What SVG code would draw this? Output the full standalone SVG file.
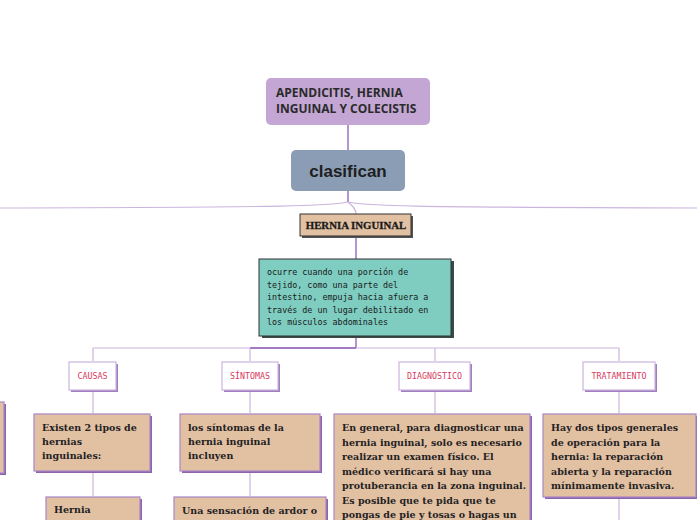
<svg xmlns="http://www.w3.org/2000/svg" width="697" height="520" viewBox="0 0 697 520">
<style>
.ln{fill:none;stroke:#cbb5de;stroke-width:1.2}
.lnd{fill:none;stroke:#8e5bb0;stroke-width:1.3}
.cat rect.b{fill:#fff;stroke:#cbb5de;stroke-width:1.2}
.cat rect.s{fill:#9f7fbd}
.cat text{font-family:"DejaVu Sans Mono","Liberation Mono",monospace;font-size:8.3px;fill:#d9385c;text-anchor:middle}
.tan rect.b{fill:#e2c0a2;stroke:#a886c6;stroke-width:1.2}
.tan rect.s{fill:#8d64ab}
.tan text{font-family:"DejaVu Serif","Liberation Serif",serif;font-weight:bold;font-size:9.5px;fill:#222}
</style>
<g id="connectors">
<path class="lnd" d="M348 125V150"/>
<path class="lnd" d="M348 191V202"/>
<path class="ln" d="M348 202C330 206 300 207 0 208"/>
<path class="ln" d="M348 202C366 206 396 207 697 208"/>
<path class="ln" d="M348 202C352 206 356 208 356 214"/>
<path class="lnd" d="M356 236V259"/>
<path class="lnd" d="M356 337V348"/>
<path class="ln" d="M93 361V348H619V361"/>
<path class="lnd" d="M250 348H356"/>
<path class="ln" d="M250 348V361"/>
<path class="ln" d="M435 348V361"/>
<path class="ln" d="M93 390V413"/>
<path class="ln" d="M250 390V413"/>
<path class="ln" d="M435 390V413"/>
<path class="ln" d="M619 390V413"/>
<path class="ln" d="M93 472V496"/>
<path class="ln" d="M250 472V496"/>
<path class="ln" d="M619 498V520"/>
</g>
<g id="root">
<rect x="266" y="78" width="164" height="47" rx="5" fill="#c3a6d4"/>
<text font-family="Open Sans,Liberation Sans,sans-serif" font-weight="bold" font-size="12" fill="#2a2a2a"><tspan x="276" y="97">APENDICITIS, HERNIA</tspan><tspan x="276" y="113">INGUINAL Y COLECISTIS</tspan></text>
</g>
<g id="clasifican">
<rect x="291" y="150" width="114" height="41" rx="5" fill="#8a9db5"/>
<text x="348" y="177" text-anchor="middle" font-family="Liberation Sans,Arial,sans-serif" font-weight="bold" font-size="17" fill="#1e1e1e">clasifican</text>
</g>
<g id="hernia-inguinal">
<rect x="302" y="216" width="111" height="22" fill="#555"/>
<rect x="300" y="214" width="111" height="22" fill="#e2c0a2" stroke="#333" stroke-width="1"/>
<text x="356" y="229" text-anchor="middle" font-family="Liberation Serif,serif" font-weight="bold" font-size="10.8" fill="#1a1a1a" stroke="#1a1a1a" stroke-width="0.3">HERNIA INGUINAL</text>
</g>
<g id="definicion">
<rect x="262" y="261" width="192" height="77" fill="#3a4a44"/>
<rect x="259" y="259" width="192" height="77" fill="#7ecdc0" stroke="#333" stroke-width="1"/>
<text font-family="DejaVu Sans Mono,Liberation Mono,monospace" font-size="8.4" fill="#1a1a1a"><tspan x="267" y="275">ocurre cuando una porción de</tspan><tspan x="267" y="287.5">tejido, como una parte del</tspan><tspan x="267" y="300">intestino, empuja hacia afuera a</tspan><tspan x="267" y="312.5">través de un lugar debilitado en</tspan><tspan x="267" y="325">los músculos abdominales</tspan></text>
</g>
<g id="causas" class="cat">
<rect class="s" x="71" y="364" width="47" height="28"/>
<rect class="b" x="69" y="362" width="47" height="28"/>
<text x="92.5" y="379">CAUSAS</text>
</g>
<g id="sintomas" class="cat">
<rect class="s" x="224" y="364" width="56" height="28"/>
<rect class="b" x="222" y="362" width="56" height="28"/>
<text x="250" y="379">SÍNTOMAS</text>
</g>
<g id="diagnostico" class="cat">
<rect class="s" x="401" y="364" width="71" height="28"/>
<rect class="b" x="399" y="362" width="71" height="28"/>
<text x="434.5" y="379">DIAGNÓSTICO</text>
</g>
<g id="tratamiento" class="cat">
<rect class="s" x="585" y="364" width="72" height="28"/>
<rect class="b" x="583" y="362" width="72" height="28"/>
<text x="619" y="379">TRATAMIENTO</text>
</g>
<g id="left-partial" class="tan">
<rect class="s" x="-10" y="404" width="16" height="71"/>
<rect class="b" x="-12" y="402" width="16" height="71"/>
</g>
<g id="causas-texto" class="tan">
<rect class="s" x="36" y="416" width="116" height="57"/>
<rect class="b" x="34" y="414" width="116" height="57"/>
<text><tspan x="42" y="431">Existen 2 tipos de</tspan><tspan x="42" y="445">hernias</tspan><tspan x="42" y="459">inguinales:</tspan></text>
</g>
<g id="hernia-tipo" class="tan">
<rect class="s" x="48" y="499" width="94" height="30"/>
<rect class="b" x="46" y="497" width="94" height="30"/>
<text x="54" y="513">Hernia</text>
</g>
<g id="sintomas-texto" class="tan">
<rect class="s" x="182" y="416" width="140" height="57"/>
<rect class="b" x="180" y="414" width="140" height="57"/>
<text><tspan x="188" y="431">los síntomas de la</tspan><tspan x="188" y="445">hernia inguinal</tspan><tspan x="188" y="459">incluyen</tspan></text>
</g>
<g id="sintoma-ardor" class="tan">
<rect class="s" x="176" y="499" width="152" height="30"/>
<rect class="b" x="174" y="497" width="152" height="30"/>
<text x="182" y="514">Una sensación de ardor o</text>
</g>
<g id="diagnostico-texto" class="tan">
<rect class="s" x="336" y="416" width="196" height="120"/>
<rect class="b" x="334" y="414" width="196" height="120"/>
<text><tspan x="342" y="431">En general, para diagnosticar una</tspan><tspan x="342" y="445.5">hernia inguinal, solo es necesario</tspan><tspan x="342" y="460">realizar un examen físico. El</tspan><tspan x="342" y="474.5">médico verificará si hay una</tspan><tspan x="342" y="489">protuberancia en la zona inguinal.</tspan><tspan x="342" y="503.5">Es posible que te pida que te</tspan><tspan x="342" y="518">pongas de pie y tosas o hagas un</tspan></text>
</g>
<g id="tratamiento-texto" class="tan">
<rect class="s" x="545" y="416" width="153" height="83"/>
<rect class="b" x="543" y="414" width="153" height="83"/>
<text><tspan x="551" y="431">Hay dos tipos generales</tspan><tspan x="551" y="445.5">de operación para la</tspan><tspan x="551" y="460">hernia: la reparación</tspan><tspan x="551" y="474.5">abierta y la reparación</tspan><tspan x="551" y="489">mínimamente invasiva.</tspan></text>
</g>
</svg>
